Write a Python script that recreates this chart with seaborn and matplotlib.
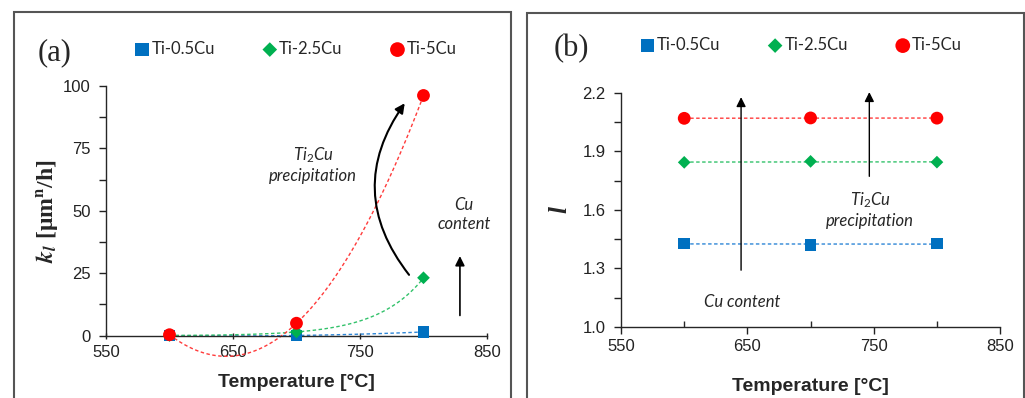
"""
Parabolic rate constant k_l and exponent l vs temperature for Ti-Cu alloys
"""

import numpy as np
import pandas as pd
import seaborn as sns
import matplotlib.pyplot as plt
from matplotlib.patches import Rectangle
from matplotlib.ticker import MultipleLocator, FormatStrFormatter

temps = [600, 700, 800]
alloys = ["Ti-0.5Cu", "Ti-2.5Cu", "Ti-5Cu"]

# panel (a): k_l [um^n/h]
kl_05 = [0.1, 0.1, 1.5]
kl_25 = [0.1, 1.5, 23.2]
kl_5 = [0.4, 5.0, 96.2]

# panel (b): exponent l
l_05 = [1.428, 1.419, 1.427]
l_25 = [1.844, 1.849, 1.845]
l_5 = [2.070, 2.072, 2.071]

colors = {"Ti-0.5Cu": "#0070C0", "Ti-2.5Cu": "#00B050", "Ti-5Cu": "#FF0000"}
trend_colors = {"Ti-0.5Cu": "#2E86D6", "Ti-2.5Cu": "#33C26B", "Ti-5Cu": "#FF3B3B"}
markers = {"Ti-0.5Cu": "s", "Ti-2.5Cu": "D", "Ti-5Cu": "o"}
msizes = {"Ti-0.5Cu": 70, "Ti-2.5Cu": 42, "Ti-5Cu": 85}

sns.set_theme(style="ticks")
plt.rcParams["font.family"] = ["Liberation Sans", "DejaVu Sans"]
plt.rcParams["axes.linewidth"] = 1.0
plt.rcParams["mathtext.fontset"] = "custom"
plt.rcParams["mathtext.it"] = "Lato:italic"
plt.rcParams["mathtext.rm"] = "Lato"

LEG_FONT = ["Lato", "DejaVu Sans"]
DASH = (0, (2.5, 1.8))


def build_df(vals):
    rows = []
    for alloy, ys in zip(alloys, vals):
        for t, y in zip(temps, ys):
            rows.append({"temp": t, "value": y, "alloy": alloy})
    return pd.DataFrame(rows)


def exp_trend(x, y):
    # Excel-like exponential trendline
    b, a = np.polyfit(x, np.log(y), 1)
    xs = np.linspace(min(x), max(x), 100)
    return xs, np.exp(a + b * xs)


def style_axis(ax, xdir, xlabelpad):
    sns.despine(ax=ax)
    ax.set_xlim(550, 850)
    ax.xaxis.set_major_locator(MultipleLocator(100, offset=50))
    ax.xaxis.set_minor_locator(MultipleLocator(100))
    ax.tick_params(axis="x", which="major", direction=xdir, length=5, width=1,
                   labelsize=12, colors="#222222", pad=4)
    ax.tick_params(axis="x", which="minor", direction="in", length=4, width=1)
    ax.tick_params(axis="y", which="both", direction="out", length=5, width=1,
                   labelsize=12, colors="#222222", pad=6)
    ax.set_xlabel("Temperature [°C]", fontsize=14, fontweight="bold", labelpad=xlabelpad)


def add_scatter(ax, df):
    for alloy in alloys:
        sub = df[df["alloy"] == alloy]
        sns.scatterplot(data=sub, x="temp", y="value", ax=ax, marker=markers[alloy],
                        color=colors[alloy], s=msizes[alloy], edgecolor="none",
                        label=alloy, zorder=5, clip_on=False)


def add_legend(ax, fig, cx, cy):
    leg = ax.legend(loc="center", bbox_to_anchor=(cx, cy), bbox_transform=fig.transFigure,
                    ncol=3, frameon=False, handletextpad=0.05, columnspacing=2.8,
                    handlelength=1.0, borderaxespad=0, markerscale=1.15,
                    prop={"family": LEG_FONT, "size": 12})
    return leg


fig = plt.figure(figsize=(10.25, 3.98), dpi=100)
ax_a = fig.add_axes([0.1034, 0.1565, 0.3717, 0.6274])
ax_b = fig.add_axes([0.6059, 0.1791, 0.3698, 0.5872])

# ---- panel (a)
df_a = build_df([kl_05, kl_25, kl_5])
sns.regplot(x=temps, y=kl_05, order=2, ci=None, scatter=False, ax=ax_a, truncate=True,
            line_kws=dict(color=trend_colors["Ti-0.5Cu"], lw=1.0, ls=DASH))
xs, ys = exp_trend(temps, kl_25)
sns.lineplot(x=xs, y=ys, ax=ax_a, color=trend_colors["Ti-2.5Cu"], lw=1.0, ls=DASH)
sns.regplot(x=temps, y=kl_5, order=2, ci=None, scatter=False, ax=ax_a, truncate=True,
            line_kws=dict(color=trend_colors["Ti-5Cu"], lw=1.0, ls=DASH))
add_scatter(ax_a, df_a)
style_axis(ax_a, "inout", 10)
ax_a.set_ylim(0, 100)
ax_a.spines["bottom"].set_position(("data", 0))
ax_a.yaxis.set_major_locator(MultipleLocator(25))
ax_a.yaxis.set_minor_locator(MultipleLocator(12.5))
for line in ax_a.lines:
    line.set_clip_on(False)
ax_a.set_ylabel(r"$\mathbfit{k}_{\mathbfit{l}}$ [μm$^{\mathbf{n}}$/h]", fontsize=17,
                fontweight="bold", family="Liberation Serif", math_fontfamily="stix",
                labelpad=2)
add_legend(ax_a, fig, 0.288, 0.877)

ax_a.annotate("", xy=(786.5, 94), xytext=(790, 23.5),
              arrowprops=dict(arrowstyle="-|>", color="black", lw=1.5,
                              connectionstyle="arc3,rad=-0.38", mutation_scale=14))
ax_a.annotate("", xy=(828.7, 33), xytext=(828.7, 7),
              arrowprops=dict(arrowstyle="-|>", color="black", lw=1.2, mutation_scale=14))
ax_a.text(713, 68.5, "Ti$_{\\mathit{2}}$Cu\nprecipitation", ha="center", va="center",
          fontsize=12, style="italic", family=LEG_FONT, linespacing=1.25)
ax_a.text(832, 48.5, "Cu\ncontent", ha="center", va="center", fontsize=12,
          style="italic", family=LEG_FONT, linespacing=1.25)
fig.text(0.037, 0.867, "(a)", fontsize=22, family="Liberation Serif", va="center")

# ---- panel (b)
df_b = build_df([l_05, l_25, l_5])
for alloy, vals in zip(alloys, [l_05, l_25, l_5]):
    sns.regplot(x=temps, y=vals, order=1, ci=None, scatter=False, ax=ax_b, truncate=True,
                line_kws=dict(color=trend_colors[alloy], lw=1.0, ls=DASH))
add_scatter(ax_b, df_b)
style_axis(ax_b, "out", 17)
ax_b.set_ylim(1.0, 2.2)
ax_b.yaxis.set_major_locator(MultipleLocator(0.3, offset=0.1))
ax_b.yaxis.set_minor_locator(MultipleLocator(0.15, offset=0.1))
ax_b.yaxis.set_major_formatter(FormatStrFormatter("%.1f"))
ax_b.set_ylabel("l", fontsize=18, fontweight="bold", style="italic",
                family="Liberation Serif", labelpad=8)
add_legend(ax_b, fig, 0.781, 0.887)

ax_b.annotate("", xy=(645, 2.193), xytext=(645, 1.276), annotation_clip=False,
              arrowprops=dict(arrowstyle="-|>", color="black", lw=1.0, mutation_scale=14))
ax_b.annotate("", xy=(746.5, 2.219), xytext=(746.5, 1.758), annotation_clip=False,
              arrowprops=dict(arrowstyle="-|>", color="black", lw=1.0, mutation_scale=14))
ax_b.text(645.5, 1.125, "Cu content", ha="center", va="center", fontsize=12,
          style="italic", family=LEG_FONT)
ax_b.text(747, 1.6, "Ti$_{\\mathit{2}}$Cu\nprecipitation", ha="center", va="center",
          fontsize=12, style="italic", family=LEG_FONT, linespacing=1.25)
fig.text(0.540, 0.877, "(b)", fontsize=22, family="Liberation Serif", va="center")

# panel frames
for x0, top in [(0.01366, 0.9698), (0.5141, 0.9673)]:
    fig.add_artist(Rectangle((x0, -0.05), 0.4849, top + 0.05, transform=fig.transFigure,
                             fill=False, ec="#555555", lw=1.5, clip_on=False))

fig.savefig("out.png", dpi=100)
